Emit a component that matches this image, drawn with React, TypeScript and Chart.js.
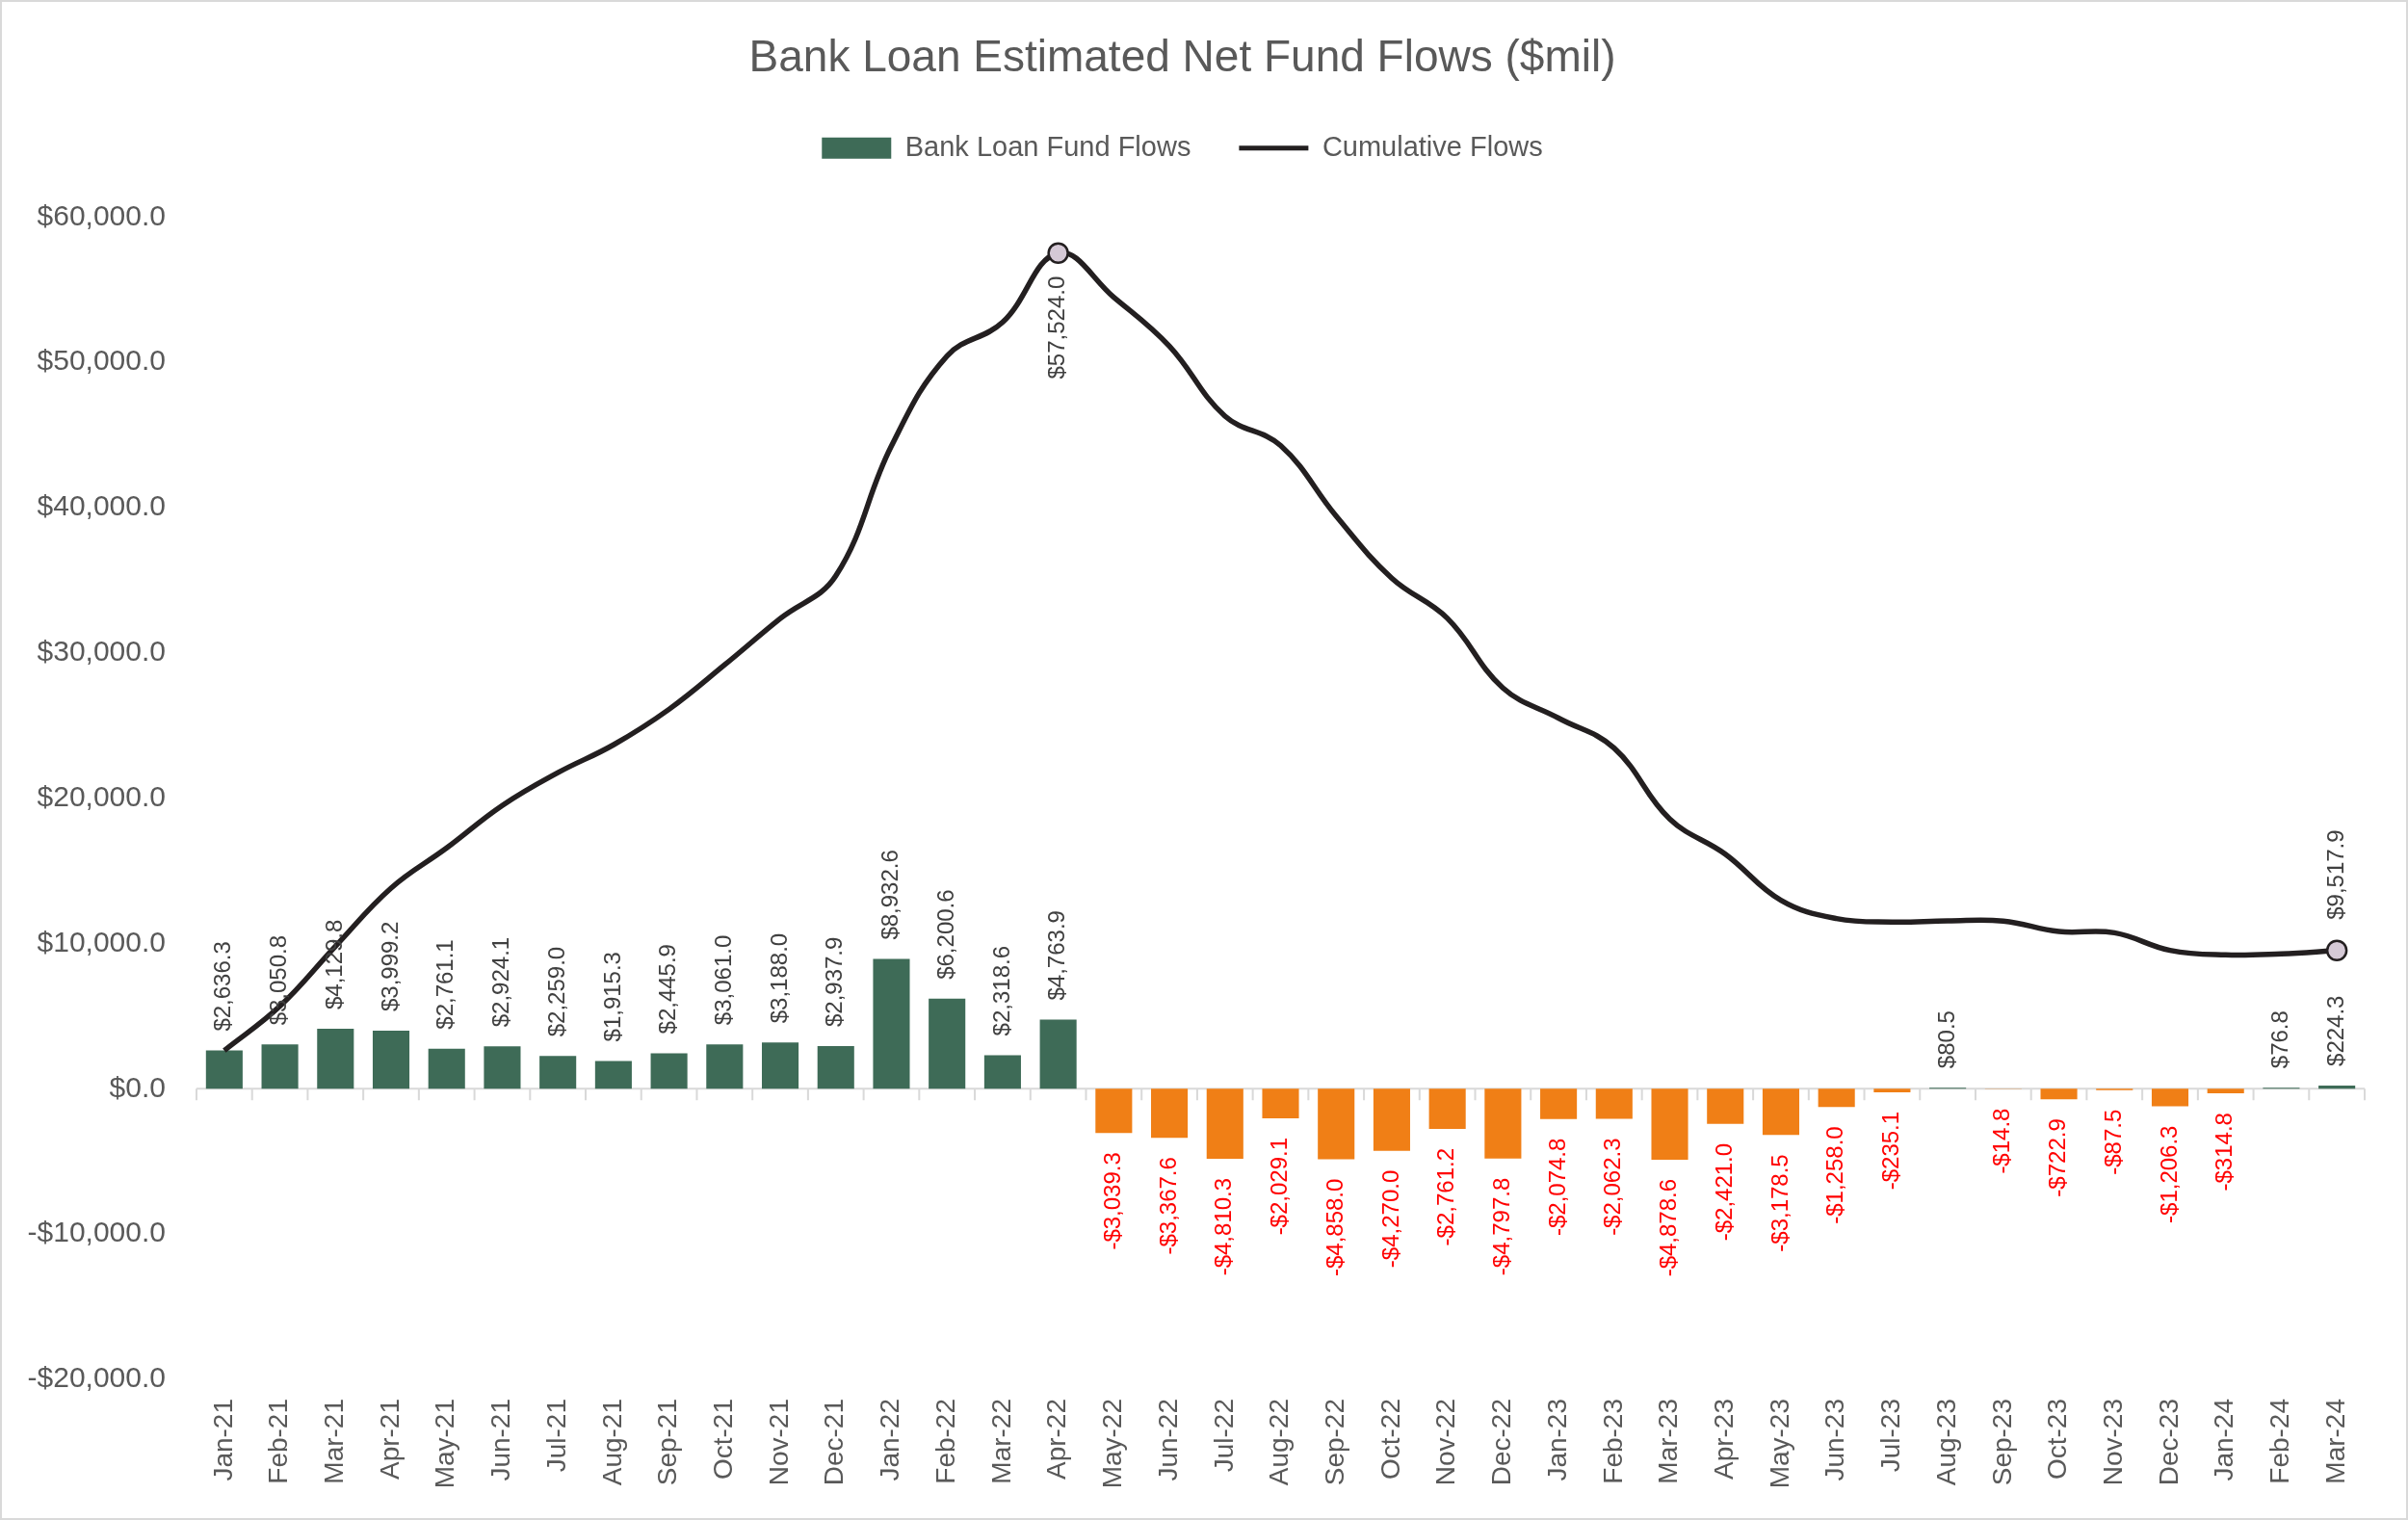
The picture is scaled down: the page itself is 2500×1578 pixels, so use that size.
import { useEffect, useRef } from 'react';
import { Chart, registerables } from 'chart.js';

Chart.register(...registerables);

const months = [
  'Jan-21', 'Feb-21', 'Mar-21', 'Apr-21', 'May-21', 'Jun-21', 'Jul-21', 'Aug-21', 'Sep-21', 'Oct-21', 'Nov-21', 'Dec-21',
  'Jan-22', 'Feb-22', 'Mar-22', 'Apr-22', 'May-22', 'Jun-22', 'Jul-22', 'Aug-22', 'Sep-22', 'Oct-22', 'Nov-22', 'Dec-22',
  'Jan-23', 'Feb-23', 'Mar-23', 'Apr-23', 'May-23', 'Jun-23', 'Jul-23', 'Aug-23', 'Sep-23', 'Oct-23', 'Nov-23', 'Dec-23',
  'Jan-24', 'Feb-24', 'Mar-24',
];

// monthly net flows ($mil)
const fundFlows = [
  2636.3, 3050.8, 4129.8, 3999.2, 2761.1, 2924.1, 2259.0, 1915.3, 2445.9, 3061.0, 3188.0, 2937.9,
  8932.6, 6200.6, 2318.6, 4763.9, -3039.3, -3367.6, -4810.3, -2029.1, -4858.0, -4270.0, -2761.2, -4797.8,
  -2074.8, -2062.3, -4878.6, -2421.0, -3178.5, -1258.0, -235.1, 80.5, -14.8, -722.9, -87.5, -1206.3,
  -314.8, 76.8, 224.3,
];

// running total ($mil)
const cumulativeFlows = [
  2636.3, 5687.1, 9816.9, 13816.1, 16577.2, 19501.3, 21760.3, 23675.6, 26121.5, 29182.5, 32370.5, 35308.4,
  44241.0, 50441.6, 52760.2, 57524.0, 54484.8, 51117.2, 46306.9, 44277.8, 39419.8, 35149.8, 32388.6, 27590.8,
  25516.0, 23453.7, 18575.1, 16154.1, 12975.6, 11717.6, 11482.5, 11563.0, 11548.2, 10825.3, 10737.8, 9531.5,
  9216.7, 9293.5, 9517.9,
];

// cumulative points that carry a marker and a label
const markedMonths = ['Apr-22', 'Mar-24'];

const yMin = -20000;
const yMax = 60000;
const yStep = 10000;

const GREEN = '#3e6b57';
const ORANGE = '#f07f16';
const LINE = '#231f20';
const SANS = "'Liberation Sans', Arial, sans-serif";

const money = (v: number) =>
  (v < 0 ? '-' : '') + '$' + Math.abs(v).toLocaleString('en-US', { minimumFractionDigits: 1, maximumFractionDigits: 1 });

// white background + light frame
const framePlugin = {
  id: 'frame',
  beforeDraw(chart: any) {
    const { ctx, width, height } = chart;
    ctx.save();
    ctx.fillStyle = '#ffffff';
    ctx.fillRect(0, 0, width, height);
    ctx.strokeStyle = '#d9d9d9';
    ctx.lineWidth = 2;
    ctx.strokeRect(1, 1, width - 2, height - 2);
    ctx.restore();
  },
};

// horizontal axis line at zero with tick marks between categories
const zeroAxisPlugin = {
  id: 'zeroAxis',
  beforeDatasetsDraw(chart: any) {
    const { ctx, chartArea, scales } = chart;
    const y0 = scales.y.getPixelForValue(0);
    const step = (chartArea.right - chartArea.left) / months.length;
    ctx.save();
    ctx.strokeStyle = '#d9d9d9';
    ctx.lineWidth = 2;
    ctx.beginPath();
    ctx.moveTo(chartArea.left, y0);
    ctx.lineTo(chartArea.right, y0);
    for (let i = 0; i <= months.length; i++) {
      const x = chartArea.left + i * step;
      ctx.moveTo(x, y0);
      ctx.lineTo(x, y0 + 12);
    }
    ctx.stroke();
    ctx.restore();
  },
};

// rotated value labels
const valueLabelsPlugin = {
  id: 'valueLabels',
  afterDatasetsDraw(chart: any) {
    const { ctx } = chart;
    const gap = 20;
    ctx.save();
    ctx.font = `24px ${SANS}`;
    ctx.textBaseline = 'middle';

    const drawRotated = (text: string, x: number, y: number, align: CanvasTextAlign, color: string) => {
      ctx.save();
      ctx.translate(x, y);
      ctx.rotate(-Math.PI / 2);
      ctx.textAlign = align;
      ctx.fillStyle = color;
      ctx.fillText(text, 0, 0);
      ctx.restore();
    };

    chart.getDatasetMeta(0).data.forEach((el: any, i: number) => {
      const v = fundFlows[i];
      if (v >= 0) drawRotated(money(v), el.x, el.y - gap, 'left', '#404040');
      else drawRotated(money(v), el.x, el.y + gap, 'right', '#ff0000');
    });

    const lineMeta = chart.getDatasetMeta(1);
    markedMonths.forEach((m) => {
      const i = months.indexOf(m);
      const el = lineMeta.data[i];
      const v = cumulativeFlows[i];
      if (i === months.length - 1) drawRotated(money(v), el.x, el.y - 32, 'left', '#404040');
      else drawRotated(money(v), el.x, el.y + 24, 'right', '#404040');
    });
    ctx.restore();
  },
};

export default function App() {
  const canvasRef = useRef<HTMLCanvasElement>(null);
  const chartRef = useRef<Chart | null>(null);

  useEffect(() => {
    document.body.style.margin = '0';
    document.body.style.overflow = 'hidden';
    if (!canvasRef.current) return;
    if (chartRef.current) chartRef.current.destroy();

    chartRef.current = new Chart(canvasRef.current, {
      type: 'bar',
      data: {
        labels: months,
        datasets: [
          {
            type: 'bar',
            label: 'Bank Loan Fund Flows',
            data: fundFlows,
            backgroundColor: (c: any) => (fundFlows[c.dataIndex] >= 0 ? GREEN : ORANGE),
            categoryPercentage: 1,
            barPercentage: 0.66,
            order: 1,
          },
          {
            type: 'line',
            label: 'Cumulative Flows',
            data: cumulativeFlows,
            borderColor: LINE,
            borderWidth: 5.5,
            tension: 0.4,
            pointRadius: (c: any) => (markedMonths.includes(months[c.dataIndex]) ? 10 : 0),
            pointBackgroundColor: '#d5c9d6',
            pointBorderColor: LINE,
            pointBorderWidth: 2.5,
            order: 0,
          } as any,
        ],
      },
      options: {
        responsive: true,
        maintainAspectRatio: false,
        animation: false,
        devicePixelRatio: 1,
        layout: { padding: { left: 0, right: 45, top: 0, bottom: 0 } },
        plugins: {
          title: {
            display: true,
            text: 'Bank Loan Estimated Net Fund Flows ($mil)',
            color: '#595959',
            font: { family: SANS, size: 46, weight: 'normal' },
            padding: { top: 34, bottom: 0 },
          },
          subtitle: {
            // spacer between legend and plot
            display: true,
            text: '',
            position: 'top',
            weight: 500,
            font: { size: 1 },
            padding: { top: 0, bottom: 46 },
          } as any,
          legend: {
            display: true,
            labels: {
              usePointStyle: true,
              pointStyleWidth: 72,
              boxHeight: 22,
              padding: 50,
              color: '#595959',
              font: { family: SANS, size: 29 },
              sort: (a: any, b: any) => a.datasetIndex - b.datasetIndex,
              generateLabels: (chart: any) => {
                const items = (Chart.defaults.plugins.legend.labels as any).generateLabels(chart);
                items.forEach((it: any) => {
                  if (it.datasetIndex === 0) {
                    it.pointStyle = 'rect';
                    it.fillStyle = GREEN;
                    it.strokeStyle = GREEN;
                    it.lineWidth = 0;
                  } else {
                    it.pointStyle = 'line';
                    it.strokeStyle = LINE;
                    it.lineWidth = 5;
                  }
                });
                return items;
              },
            },
          },
          tooltip: { enabled: false },
        },
        scales: {
          x: {
            grid: { display: false, drawTicks: false },
            border: { display: false },
            ticks: {
              autoSkip: false,
              minRotation: 90,
              maxRotation: 90,
              padding: 20,
              color: '#595959',
              font: { family: SANS, size: 28 },
            },
            afterFit: (scale: any) => {
              scale.height = 146;
            },
          },
          y: {
            min: yMin,
            max: yMax,
            grid: { display: false, drawTicks: false },
            border: { display: false },
            ticks: {
              stepSize: yStep,
              padding: 32,
              color: '#595959',
              font: { family: SANS, size: 30 },
              callback: (v: any) => money(Number(v)),
            },
            afterFit: (scale: any) => {
              scale.width = 204;
            },
          },
        },
      },
      plugins: [framePlugin, zeroAxisPlugin, valueLabelsPlugin],
    });

    return () => {
      if (chartRef.current) {
        chartRef.current.destroy();
        chartRef.current = null;
      }
    };
  }, []);

  return (
    <div style={{ width: 2500, height: 1578, position: 'relative' }}>
      <canvas ref={canvasRef}></canvas>
    </div>
  );
}
